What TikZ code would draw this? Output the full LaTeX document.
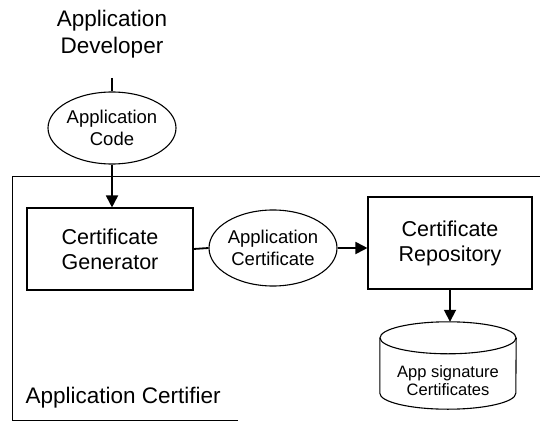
\documentclass[tikz,border=0pt]{standalone}
\usepackage{fontspec}
\setmainfont{Liberation Sans}
\usetikzlibrary{arrows.meta,shapes.geometric}

\tikzset{
  x=1pt, y=-1pt,
  outline/.style={draw, line width=1.1pt},
  procbox/.style={outline, rectangle, inner sep=0pt, align=center,
    font=\fontsize{21.5}{25}\selectfont},
  dataoval/.style={outline, ellipse, inner sep=0pt, align=center,
    font=\fontsize{18.5}{22}\selectfont},
  flow/.style={line width=1.8pt},
  flowarrow/.style={flow, -{Triangle[length=12pt,width=12pt]}},
}

\begin{document}
\begin{tikzpicture}
  \useasboundingbox (0,0) rectangle (540,422);

  % certifier frame (open on the right)
  \draw[line width=0.9pt] (238,420) -- (12,420) -- (12,176) -- (540,176);
  \node[anchor=west, font=\fontsize{22.5}{26}\selectfont] (certifier) at (22,398) {Application Certifier};

  % developer
  \node[align=center, font=\fontsize{22.5}{27}\selectfont] (dev) at (112,34) {Application\\Developer};
  \coordinate (devend) at (112,78);

  % data items
  \node[dataoval, minimum width=117pt, minimum height=72pt] (code) at (112,128) {Application\\Code};
  \node[dataoval, minimum width=121pt, minimum height=76pt] (cert) at (273,248) {Application\\Certificate};

  % processes
  \node[procbox, minimum width=166pt, minimum height=82pt] (gen) at (110,249) {Certificate\\Generator};
  \node[procbox, minimum width=164pt, minimum height=92pt] (repo) at (450,243) {Certificate\\Repository};

  % signature store: a cylinder drawn round an invisible frame node
  \node[rectangle, minimum width=136pt, minimum height=87pt, inner sep=0pt] (store) at (448,365.5) {};
  \draw[line width=1.1pt] ([yshift=-16pt]store.north) ellipse [x radius=68pt, y radius=16pt];
  \draw[line width=1.1pt] ([yshift=-16pt]store.north west) -- ([yshift=16pt]store.south west)
    arc [start angle=180, end angle=360, x radius=68pt, y radius=16pt]
    -- ([yshift=-16pt]store.north east);
  \node[align=center, font=\fontsize{16.5}{18}\selectfont] (storetext) at (448,381) {App signature\\Certificates};

  % connectors
  \draw[flow] (devend) -- (code.north);
  \draw[flowarrow] (code.south) -- (gen.north -| code.south);
  \draw[flow] (gen.east) -- (cert.west);
  \draw[flowarrow] (cert.east) -- (repo.west |- cert.east);
  \draw[flowarrow] (repo.south) -- (repo.south |- store.north);
\end{tikzpicture}
\end{document}
